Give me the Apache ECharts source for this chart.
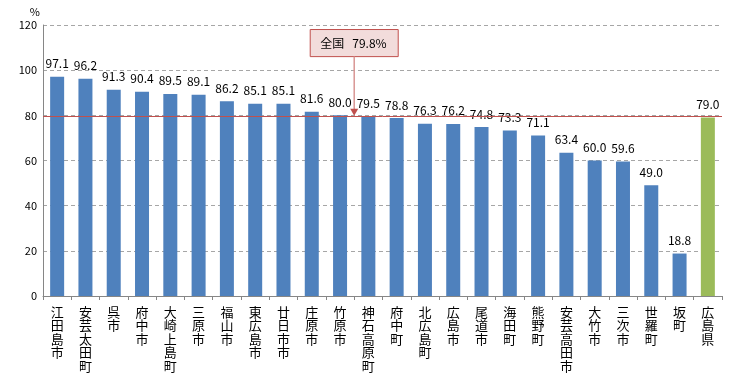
<!DOCTYPE html>
<html><head><meta charset="utf-8">
<script src="https://cdn.jsdelivr.net/npm/echarts@6/dist/echarts.min.js"></script>
<style>html,body{margin:0;padding:0;background:#fff}#c{width:756px;height:378px}</style>
</head><body><div id="c"></div>
<script>
const categories = ['江田島市','安芸太田町','呉市','府中市','大崎上島町','三原市','福山市','東広島市','廿日市市','庄原市','竹原市','神石高原町','府中町','北広島町','広島市','尾道市','海田町','熊野町','安芸高田市','大竹市','三次市','世羅町','坂町','広島県'];
const values = [97.1,96.2,91.3,90.4,89.5,89.1,86.2,85.1,85.1,81.6,80.0,79.5,78.8,76.3,76.2,74.8,73.3,71.1,63.4,60.0,59.6,49.0,18.8,79.0];
const nationalValue = 79.8;
const nationalLabel = '全国';
const yTicks = [0,20,40,60,80,100,120];

const font = '"Noto Sans CJK JP", sans-serif';
const chart = echarts.init(document.getElementById('c'));
const data = values.map((v,i)=>({value:v, itemStyle:{color: i===values.length-1 ? '#9BBB59' : '#4F81BD'}}));
chart.setOption({
  animation:false,
  grid:{left:43,right:34,top:25,bottom:82},
  xAxis:{type:'category',data:categories,
    axisLine:{lineStyle:{color:'#868686'}},
    axisTick:{show:true,alignWithLabel:false,lineStyle:{color:'#868686'},length:4},
    axisLabel:{interval:0,color:'#000',fontFamily:font,fontSize:13,lineHeight:13.5,margin:9,
      formatter:s=>s.split('').join('\n')}},
  yAxis:{type:'value',min:yTicks[0],max:yTicks[yTicks.length-1],interval:20,name:'%',
    nameLocation:'end',nameGap:8,nameTextStyle:{color:'#000',fontFamily:font,fontSize:11,align:'right',padding:[0,3,0,0]},
    axisLine:{show:true,lineStyle:{color:'#868686'}},axisTick:{show:false},
    axisLabel:{color:'#000',fontFamily:font,fontSize:11,margin:6},
    splitLine:{lineStyle:{color:'#A6A6A6',type:[4,3]}}},
  series:[{type:'bar',data:data,barWidth:14,
    label:{show:true,position:'top',color:'#000',fontFamily:font,fontSize:12,distance:7,formatter:p=>p.value.toFixed(1)},
    markLine:{silent:true,symbol:'none',data:[{yAxis:nationalValue}],
      lineStyle:{color:'#C0504D',type:'solid',width:1},label:{show:false}}
  }]
});
// annotation box and arrow
const xl = chart.convertToPixel({xAxisIndex:0},categories[10]);
const xr = chart.convertToPixel({xAxisIndex:0},categories[11]);
const ax = (xl+xr)/2;
const yLine = chart.convertToPixel({yAxisIndex:0},nationalValue);
const boxTop = chart.convertToPixel({yAxisIndex:0},118);
const boxBot = chart.convertToPixel({yAxisIndex:0},106);
const bw = 88;
chart.setOption({graphic:[
  {type:'rect',shape:{x:ax-bw/2,y:boxTop,width:bw,height:boxBot-boxTop},style:{fill:'#F2DCDB',stroke:'#C0504D',lineWidth:1},z:10},
  {type:'text',x:ax-bw/2+10,y:(boxTop+boxBot)/2,style:{text:nationalLabel+'   '+nationalValue.toFixed(1)+'%',fill:'#000',font:'12px '+font,verticalAlign:'middle'},z:11},
  {type:'line',shape:{x1:ax,y1:boxBot,x2:ax,y2:yLine-6},style:{stroke:'#D99694',lineWidth:1.5},z:10},
  {type:'polygon',shape:{points:[[ax-4,yLine-7],[ax+4,yLine-7],[ax,yLine]]},style:{fill:'#C0504D'},z:10}
]});
</script></body></html>
